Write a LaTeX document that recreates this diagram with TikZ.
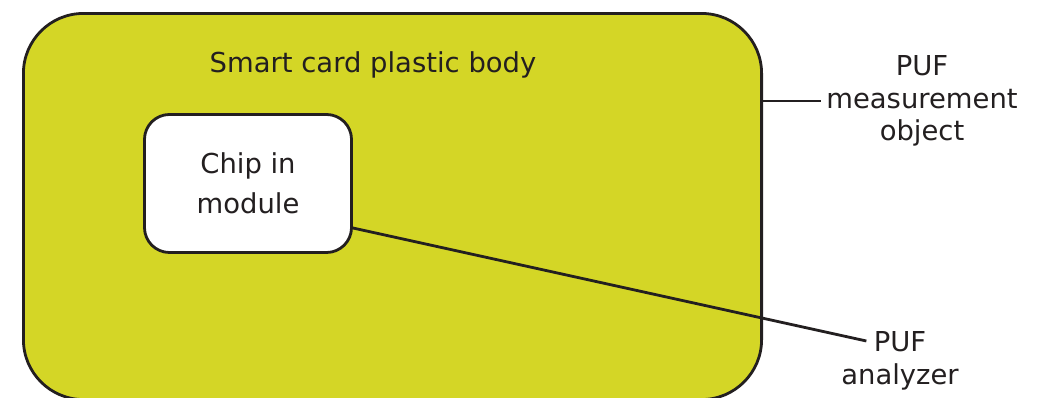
\documentclass[tikz,border=0pt]{standalone}
\usepackage{fontspec}
\setmainfont{DejaVu Sans}
\definecolor{cardgreen}{RGB}{212,214,38}
\definecolor{ink}{RGB}{35,31,32}
\begin{document}
\begin{tikzpicture}[x=0.025cm,y=-0.025cm,
  box/.style={draw=ink, line width=0.07cm, inner sep=0pt},
  lbl/.style={align=center, text=ink, font=\fontsize{19.5}{23.2}\selectfont},
  lead/.style={draw=ink, line width=0.07cm}]
\useasboundingbox (0,0) rectangle (1043,398);
\node[box, fill=cardgreen, rounded corners=1.5cm, minimum width=18.45cm, minimum height=9.65cm] (card) at (392.5,206.5) {};
\node[lbl] (body) at (373,65) {Smart card plastic body};
\node[box, fill=white, rounded corners=0.625cm, minimum width=5.175cm, minimum height=3.45cm, align=center, text=ink, font=\fontsize{19.5}{28.5}\selectfont] (chip) at (248,183.5) {Chip in\\module};
\node[lbl] (meas) at (922,101) {PUF\\measurement\\object};
\node[lbl] (ana) at (900,361) {PUF\\analyzer};
\draw[lead] (card.east |- meas.west) -- (meas.west);
\draw[lead] ([shift={(0,44.5)}]chip.east) -- ([shift={(30,-20)}]ana.west);
\end{tikzpicture}
\end{document}
